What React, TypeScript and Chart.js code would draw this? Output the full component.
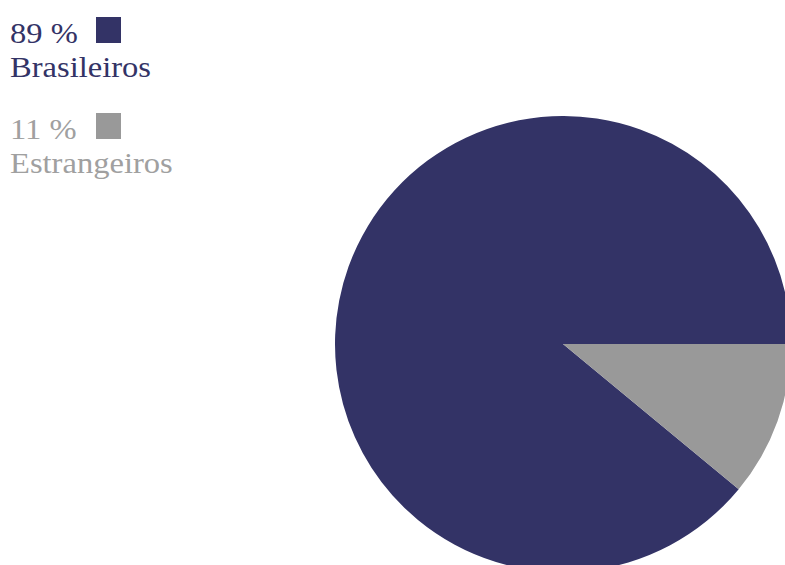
import React, { useEffect, useRef } from "react";
import { Chart, registerables } from "chart.js";

Chart.register(...registerables);

const categories = ["Brasileiros", "Estrangeiros"];
const values = [89, 11];
const colors = ["#333366", "#999999"];
const textColors = ["#333366", "#a0a0a0"];

export default function App() {
  const ref = useRef<HTMLCanvasElement>(null);

  useEffect(() => {
    document.body.style.margin = "0";
    const total = values.reduce((a, b) => a + b, 0);
    const lastShare = values[values.length - 1] / total;
    const chart = new Chart(ref.current!, {
      type: "pie",
      data: {
        labels: categories,
        datasets: [
          {
            data: values,
            backgroundColor: colors,
            borderWidth: 0,
          },
        ],
      },
      options: {
        animation: false,
        responsive: false,
        rotation: 90 + lastShare * 360,
        layout: { padding: 0 },
        plugins: {
          legend: { display: false },
          tooltip: { enabled: false },
        },
      },
    });
    return () => chart.destroy();
  }, []);

  const total = values.reduce((a, b) => a + b, 0);

  return (
    <div
      style={{
        position: "fixed",
        left: 0,
        top: 0,
        width: 785,
        height: 565,
        overflow: "hidden",
        background: "#fff",
      }}
    >
      <canvas
        ref={ref}
        width={456}
        height={456}
        style={{ position: "absolute", left: 335, top: 116, width: 456, height: 456 }}
      />
      {categories.map((c, i) => (
        <div
          key={c}
          style={{
            position: "absolute",
            left: 10,
            top: 15.6 + i * 96.4,
            width: 200,
            height: 70,
          }}
        >
          <div
            style={{
              fontFamily: "'Liberation Serif', serif",
              fontSize: 30,
              lineHeight: "34px",
              color: textColors[i],
              whiteSpace: "nowrap",
              transform: "scaleX(1.085)",
              transformOrigin: "0 0",
            }}
          >
            <div>{Math.round((values[i] / total) * 100)} %</div>
            <div>{c}</div>
          </div>
          <span
            style={{
              position: "absolute",
              left: 86,
              top: 1.2,
              width: 25,
              height: 26,
              background: colors[i],
            }}
          />
        </div>
      ))}
    </div>
  );
}
